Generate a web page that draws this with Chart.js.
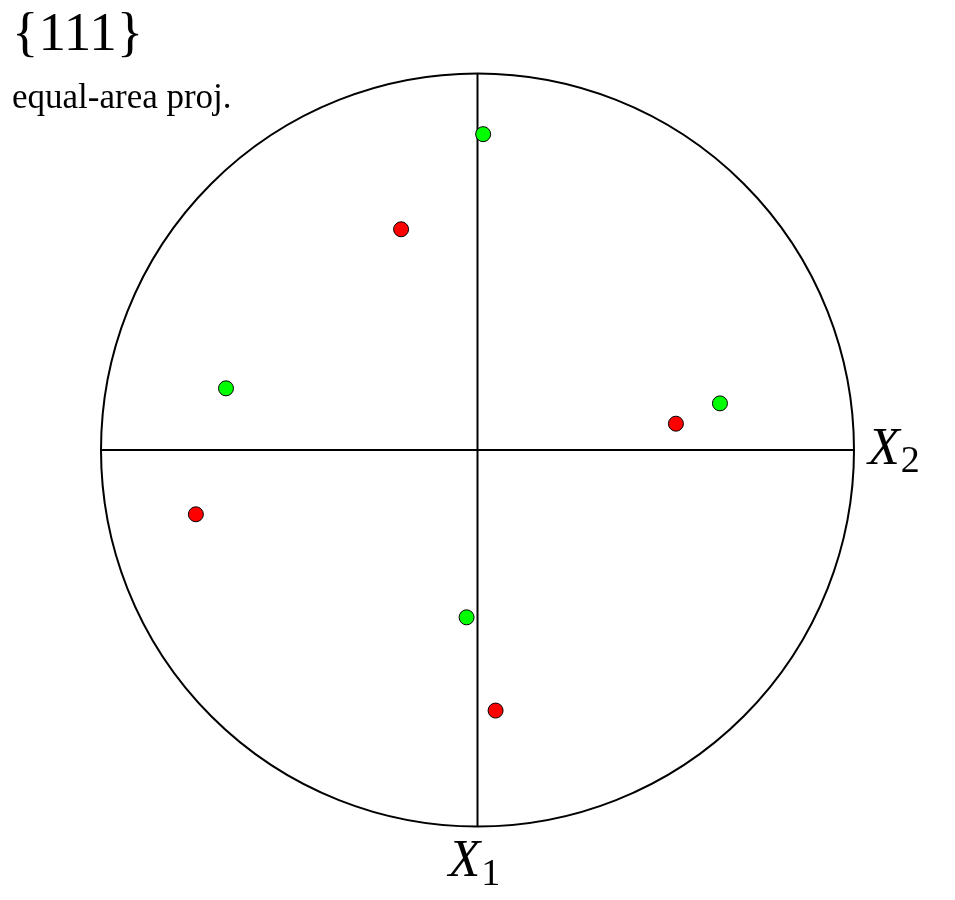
<!DOCTYPE html>
<html>
<head>
<meta charset="utf-8">
<script src="https://cdn.jsdelivr.net/npm/chart.js@4/dist/chart.umd.min.js"></script>
<style>
  html, body { margin: 0; padding: 0; background: #ffffff; }
  #wrap { width: 955px; height: 900px; }
</style>
</head>
<body>
<div id="wrap"><canvas id="c" width="955" height="900"></canvas></div>
<script>
// Pole positions in the projection plane (horizontal = X2 to the right, vertical = -X1, i.e. up)
const redX   = [-0.203, 0.527, -0.748, 0.048];
const redY   = [ 0.587, 0.070, -0.171, -0.693];
const greenX = [ 0.015, -0.668, 0.644, -0.029];
const greenY = [ 0.840, 0.164, 0.124, -0.445];

const titleText = "{111}";
const subtitleText = "equal-area proj.";
const axisLabels = ["X", "X"];
const axisSubs = ["1", "2"];

function toPoints(xs, ys) { return xs.map((x, i) => ({ x: x, y: ys[i] })); }

const SERIF = '"Liberation Serif", "Times New Roman", serif';

const frame = {
  id: 'frame',
  beforeDatasetsDraw(chart) {
    const ctx = chart.ctx;
    const xs = chart.scales.x, ys = chart.scales.y;
    const cx = xs.getPixelForValue(0), cy = ys.getPixelForValue(0);
    const r = xs.getPixelForValue(1) - cx;
    ctx.save();
    ctx.strokeStyle = '#000';
    ctx.lineWidth = 2;
    ctx.beginPath();
    ctx.arc(cx, cy, r, 0, Math.PI * 2);
    ctx.stroke();
    ctx.beginPath();
    ctx.moveTo(xs.getPixelForValue(-1), cy);
    ctx.lineTo(xs.getPixelForValue(1), cy);
    ctx.moveTo(cx, ys.getPixelForValue(1));
    ctx.lineTo(cx, ys.getPixelForValue(-1));
    ctx.stroke();
    ctx.restore();
  },
  afterDraw(chart) {
    const ctx = chart.ctx;
    const xs = chart.scales.x, ys = chart.scales.y;
    const cx = xs.getPixelForValue(0), cy = ys.getPixelForValue(0);
    ctx.save();
    ctx.fillStyle = '#000';
    ctx.textBaseline = 'alphabetic';
    ctx.textAlign = 'left';
    ctx.font = '55px ' + SERIF;
    ctx.fillText(titleText, 12, 50);
    ctx.font = '35px ' + SERIF;
    ctx.fillText(subtitleText, 12, 108);
    // X2 label (right end of horizontal axis)
    const x2 = xs.getPixelForValue(1);
    ctx.font = 'italic 52px ' + SERIF;
    ctx.fillText(axisLabels[1], x2 + 14, cy + 14);
    let w = ctx.measureText(axisLabels[1]).width;
    ctx.font = '38px ' + SERIF;
    ctx.fillText(axisSubs[1], x2 + 14 + w + 1, cy + 22);
    // X1 label (bottom end of vertical axis)
    const y1 = ys.getPixelForValue(-1);
    ctx.font = 'italic 52px ' + SERIF;
    ctx.fillText(axisLabels[0], cx - 29, y1 + 50);
    w = ctx.measureText(axisLabels[0]).width;
    ctx.font = '38px ' + SERIF;
    ctx.fillText(axisSubs[0], cx - 29 + w + 1, y1 + 59);
    ctx.restore();
  }
};

new Chart(document.getElementById('c'), {
  type: 'scatter',
  data: {
    datasets: [
      {
        label: 'red',
        data: toPoints(redX, redY),
        backgroundColor: '#ff0000',
        borderColor: '#000000',
        borderWidth: 1,
        pointRadius: 7.5,
        pointHoverRadius: 7.5
      },
      {
        label: 'green',
        data: toPoints(greenX, greenY),
        backgroundColor: '#00ff00',
        borderColor: '#000000',
        borderWidth: 1,
        pointRadius: 7.5,
        pointHoverRadius: 7.5
      }
    ]
  },
  options: {
    responsive: false,
    animation: false,
    devicePixelRatio: 1,
    layout: { padding: { left: 101, right: 101, top: 74, bottom: 74 } },
    scales: {
      x: { type: 'linear', min: -1, max: 1, display: false },
      y: { type: 'linear', min: -1, max: 1, display: false }
    },
    plugins: {
      legend: { display: false },
      tooltip: { enabled: false },
      title: { display: false }
    }
  },
  plugins: [frame]
});
</script>
</body>
</html>
